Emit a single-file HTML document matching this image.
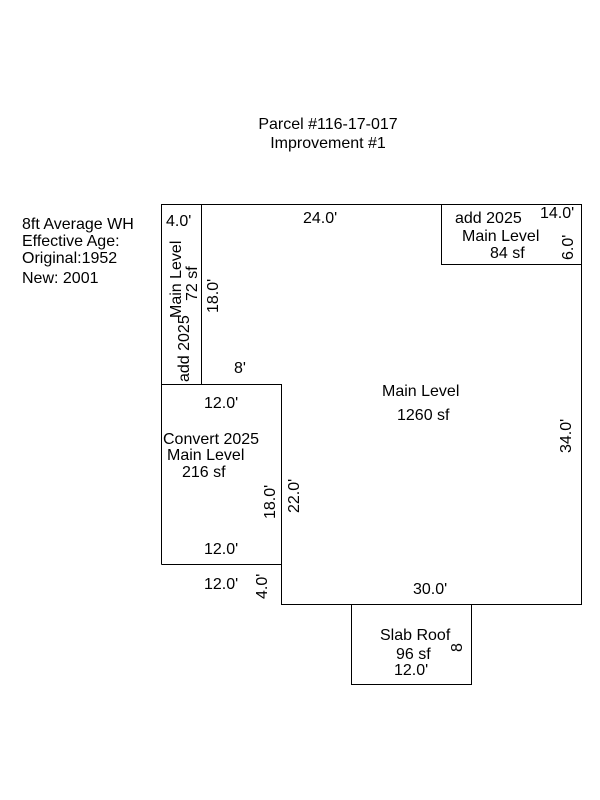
<!DOCTYPE html>
<html><head><style>body{margin:0;background:#fff}svg{display:block}</style></head><body>
<svg width="600" height="800" xmlns="http://www.w3.org/2000/svg" font-family="Liberation Sans, Arial, sans-serif" font-size="16" fill="#000">
<g stroke="#000" stroke-width="1" fill="none" shape-rendering="crispEdges">
<polyline points="161.5,564.5 161.5,204.5 581.5,204.5 581.5,604.5 281.5,604.5 281.5,384.5 161.5,384.5"/>
<line x1="161.5" y1="564.5" x2="281.5" y2="564.5"/>
<line x1="201.5" y1="204.5" x2="201.5" y2="384.5"/>
<polyline points="441.5,204.5 441.5,264.5 581.5,264.5"/>
<rect x="351.5" y="604.5" width="120" height="80"/>
</g>
<text x="328" y="129" text-anchor="middle">Parcel #116-17-017</text>
<text x="328" y="148" text-anchor="middle">Improvement #1</text>
<text x="22" y="229">8ft Average WH</text>
<text x="22" y="246">Effective Age:</text>
<text x="22" y="263">Original:1952</text>
<text x="22" y="283">New: 2001</text>
<text x="166" y="226">4.0'</text>
<text x="303" y="223">24.0'</text>
<text x="455" y="223">add 2025</text>
<text x="540" y="218">14.0'</text>
<text x="462" y="241">Main Level</text>
<text x="490" y="258">84 sf</text>
<text transform="translate(573,260) rotate(-90)">6.0'</text>
<text transform="translate(189,382) rotate(-90)">add 2025</text>
<text transform="translate(181,318) rotate(-90)">Main Level</text>
<text transform="translate(197,301) rotate(-90)">72 sf</text>
<text transform="translate(218,313) rotate(-90)">18.0'</text>
<text x="234" y="373">8'</text>
<text x="382" y="396">Main Level</text>
<text x="397" y="420">1260 sf</text>
<text transform="translate(571,453) rotate(-90)">34.0'</text>
<text x="204" y="408">12.0'</text>
<text x="163" y="444">Convert 2025</text>
<text x="167" y="460">Main Level</text>
<text x="182" y="477">216 sf</text>
<text transform="translate(275,519) rotate(-90)">18.0'</text>
<text transform="translate(299,513) rotate(-90)">22.0'</text>
<text x="204" y="554">12.0'</text>
<text x="204" y="589">12.0'</text>
<text transform="translate(267,599) rotate(-90)">4.0'</text>
<text x="413" y="594">30.0'</text>
<text x="380" y="640">Slab Roof</text>
<text x="396" y="659">96 sf</text>
<text x="394" y="675">12.0'</text>
<text transform="translate(462,652) rotate(-90)">8</text>
</svg>
</body></html>
